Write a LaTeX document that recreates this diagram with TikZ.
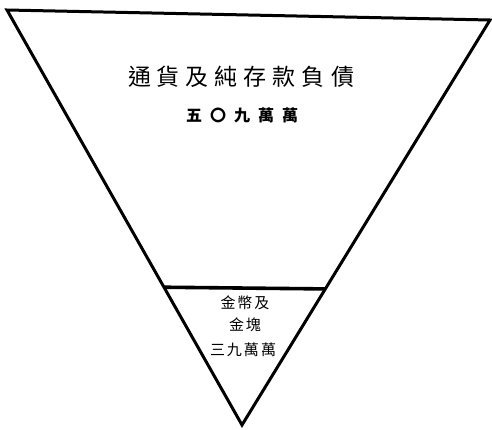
\documentclass[tikz,border=0pt]{standalone}
\usepackage{fontspec}
\usetikzlibrary{calc}
\newfontfamily\cjk{Noto Sans CJK TC}
\begin{document}
\begin{tikzpicture}[x=1pt,y=-1pt,
  edge/.style={line width=3pt,line join=miter,line cap=round},
  bigtxt/.style={font=\cjk\fontsize{23}{26}\selectfont,inner sep=0pt},
  midtxt/.style={font=\cjk\bfseries\fontsize{16}{18}\selectfont,inner sep=0pt},
  smalltxt/.style={font=\cjk\fontsize{15}{17}\selectfont,inner sep=0pt}]
\useasboundingbox (0,0) rectangle (492,429);
\coordinate (tl) at (7,10);
\coordinate (tr) at (490,20);
\coordinate (ap) at (242,425);
\coordinate (ml) at ($(tl)!0.668!(ap)$);
\coordinate (mr) at ($(tr)!0.664!(ap)$);
\draw[edge] (tl) -- (tr) -- (ap) -- cycle;
\draw[edge,line width=3.6pt,line cap=butt] (ml) -- (mr);
\node[bigtxt] (t1) at (241,77) {通\hspace{6pt}貨\hspace{6pt}及\hspace{6pt}純\hspace{6pt}存\hspace{6pt}款\hspace{6pt}負\hspace{6pt}債};
\node[midtxt] (t2) at (242,115) {五\hspace{8pt}〇\hspace{8pt}九\hspace{8pt}萬\hspace{8pt}萬};
\node[smalltxt] (b1) at (245,303) {金\hspace{2pt}幣\hspace{2pt}及};
\node[smalltxt] (b2) at (245,325) {金\hspace{2pt}塊};
\node[smalltxt] (b3) at (243,350) {三\hspace{2pt}九\hspace{2pt}萬\hspace{2pt}萬};
\end{tikzpicture}
\end{document}
